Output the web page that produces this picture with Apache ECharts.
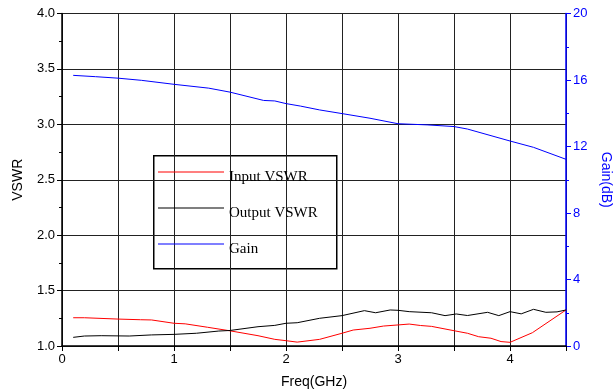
<!DOCTYPE html>
<html>
<head>
<meta charset="utf-8">
<script src="https://cdn.jsdelivr.net/npm/echarts@6/dist/echarts.min.js"></script>
<style>html,body{margin:0;padding:0;background:#fff}#c{width:614px;height:390px}</style>
</head>
<body>
<div id="c"></div>
<script>
// Input VSWR (red)
const inFreq = [0.1,0.2,0.5,0.7,0.8,1.0,1.1,1.3,1.5,1.75,1.9,2.0,2.1,2.3,2.5,2.6,2.75,2.87,3.0,3.1,3.2,3.3,3.5,3.62,3.72,3.83,3.92,4.0,4.2,4.5];
const inVswr = [1.255,1.255,1.243,1.237,1.235,1.205,1.2,1.169,1.137,1.093,1.06,1.048,1.035,1.06,1.115,1.144,1.16,1.18,1.19,1.198,1.185,1.177,1.138,1.115,1.084,1.07,1.04,1.033,1.12,1.325];
// Output VSWR (black)
const outFreq = [0.1,0.2,0.35,0.6,0.8,1.0,1.2,1.4,1.5,1.75,1.9,2.0,2.1,2.3,2.5,2.7,2.8,2.93,3.0,3.1,3.3,3.42,3.52,3.62,3.8,3.9,4.0,4.1,4.21,4.32,4.42,4.5];
const outVswr = [1.078,1.09,1.093,1.09,1.1,1.105,1.115,1.135,1.14,1.174,1.186,1.205,1.21,1.25,1.274,1.319,1.30,1.325,1.322,1.31,1.30,1.274,1.289,1.275,1.304,1.274,1.31,1.29,1.331,1.304,1.308,1.325];
// Gain (blue, dB)
const gainFreq = [0.1,0.3,0.5,0.71,1.0,1.31,1.5,1.8,1.9,2.0,2.13,2.3,2.5,2.75,3.0,3.26,3.5,3.62,4.0,4.21,4.5];
const gainDb = [16.28,16.2,16.11,15.98,15.74,15.51,15.27,14.77,14.74,14.58,14.43,14.2,13.98,13.7,13.37,13.3,13.2,13.05,12.33,11.95,11.23];

const seriesNames = ['Input VSWR','Output VSWR','Gain'];
const seriesColors = ['#ff0000','#000000','#0000ff'];
const pair = (xs, ys) => xs.map((x, i) => [x, ys[i]]);

const font = 'Liberation Sans';
const legendIcon = 'path://M0,0 L66,0 L66,1.1 L0,1.1 Z M0,11.9 L0.1,11.9 L0.1,12 L0,12 Z';
const chart = echarts.init(document.getElementById('c'), null, {renderer: 'canvas'});
chart.setOption({
  animation: false,
  backgroundColor: '#fff',
  grid: {left: 62, right: 48, top: 13.5, bottom: 44, containLabel: false, outerBoundsMode: 'none'},
  legend: {
    orient: 'vertical', left: 158, top: 170, padding: 0,
    itemWidth: 66, itemHeight: 12, itemGap: 21,
    textStyle: {fontFamily: 'Liberation Serif', fontSize: 15, color: '#000'},
    data: seriesNames.map((n, i) => ({
      name: n, icon: legendIcon,
      itemStyle: {color: seriesColors[i], borderWidth: 0, opacity: 1}
    }))
  },
  graphic: [{
    type: 'rect', left: 153, top: 155, z: 0,
    shape: {width: 183, height: 113},
    style: {fill: '#fff', stroke: '#000', lineWidth: 1.5}
  }],
  xAxis: {
    type: 'value', min: 0, max: 4.5, interval: 0.5,
    name: 'Freq(GHz)', nameLocation: 'middle', nameGap: 29,
    nameTextStyle: {fontFamily: font, fontSize: 14, color: '#000'},
    axisLine: {lineStyle: {color: '#000', width: 1.5}},
    axisTick: {length: 5, lineStyle: {color: '#000'}},
    axisLabel: {fontFamily: font, fontSize: 13, color: '#000', margin: 7,
      formatter: v => (Math.abs(v - Math.round(v)) < 1e-6 ? String(Math.round(v)) : '')},
    splitLine: {show: true, lineStyle: {color: '#222', width: 1}}
  },
  yAxis: [{
    type: 'value', min: 1, max: 4, interval: 0.5, position: 'left',
    name: 'VSWR', nameLocation: 'middle', nameGap: 37,
    nameTextStyle: {fontFamily: font, fontSize: 14, color: '#000'},
    axisLine: {show: true, lineStyle: {color: '#000', width: 1.5}},
    axisTick: {show: true, length: 5, lineStyle: {color: '#000'}},
    minorTick: {show: true, splitNumber: 2, length: 3, lineStyle: {color: '#000'}},
    axisLabel: {fontFamily: font, fontSize: 13, color: '#000', margin: 7, formatter: v => v.toFixed(1)},
    splitLine: {show: true, lineStyle: {color: '#222', width: 1}}
  }, {
    type: 'value', min: 0, max: 20, interval: 4, position: 'right',
    name: 'Gain(dB)', nameLocation: 'middle', nameGap: 32, nameRotate: -90,
    nameTextStyle: {fontFamily: font, fontSize: 14, color: '#0000ff'},
    axisLine: {show: true, lineStyle: {color: '#0000ff', width: 1.5}},
    axisTick: {show: true, length: 5, lineStyle: {color: '#0000ff'}},
    minorTick: {show: true, splitNumber: 2, length: 3, lineStyle: {color: '#0000ff'}},
    axisLabel: {fontFamily: font, fontSize: 13, color: '#0000ff', margin: 7},
    splitLine: {show: false}
  }],
  series: [{
    name: seriesNames[0], type: 'line', symbol: 'none', z: 3,
    lineStyle: {color: seriesColors[0], width: 1}, itemStyle: {color: seriesColors[0]},
    data: pair(inFreq, inVswr)
  }, {
    name: seriesNames[1], type: 'line', symbol: 'none', z: 3,
    lineStyle: {color: seriesColors[1], width: 1}, itemStyle: {color: seriesColors[1]},
    data: pair(outFreq, outVswr)
  }, {
    name: seriesNames[2], type: 'line', symbol: 'none', yAxisIndex: 1, z: 3,
    lineStyle: {color: seriesColors[2], width: 1}, itemStyle: {color: seriesColors[2]},
    data: pair(gainFreq, gainDb)
  }]
});
</script>
</body>
</html>
